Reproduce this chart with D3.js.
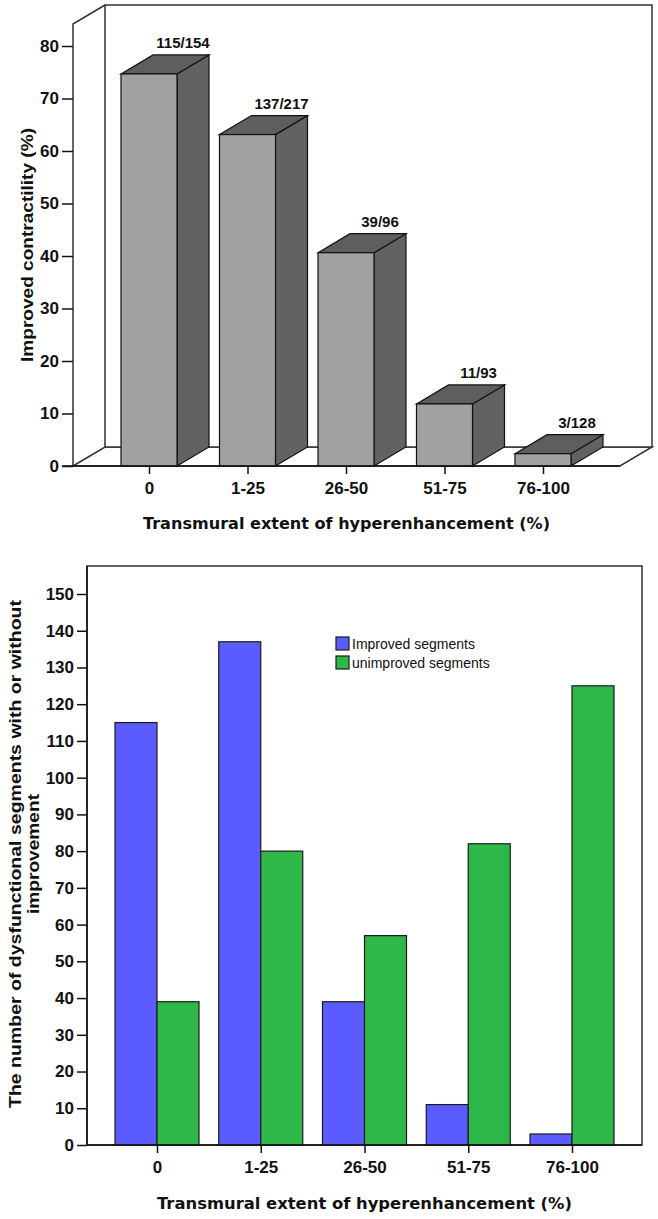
<!DOCTYPE html>
<html><head><meta charset="utf-8">
<script src="https://cdn.jsdelivr.net/npm/d3@7"></script>
<style>
html,body{margin:0;padding:0;background:#fff;}
svg{display:block;}
text{font-family:"Liberation Sans",Arial,sans-serif;font-weight:bold;fill:#111;}
</style></head>
<body>
<svg id="c" width="658" height="1219"></svg>
<script>
const categories = ["0","1-25","26-50","51-75","76-100"];
const improved   = [115,137,39,11,3];
const totals     = [154,217,96,93,128];
const unimproved = [39,80,57,82,125];
const pctTicks   = [0,10,20,30,40,50,60,70,80];
const countTicks = [0,10,20,30,40,50,60,70,80,90,100,110,120,130,140,150];
const seriesNames = ["Improved segments","unimproved segments"];
const seriesColors = ["#5b5cff","#2eb84a"];

const svg = d3.select("#c");

// ---------------- Top 3D chart ----------------
const g1 = svg.append("g");
const y1 = d3.scaleLinear().domain([0,80]).range([466,46]);
const x1 = d3.scalePoint().domain(categories).range([149,543]);
const dx = 32, dy = -19, bw = 56;
const wallTop = 5, floorRight = 620;
const lineCol = "#333";

const base = y1(0);
g1.append("path").attr("d",
  `M${73},${base} L${73+dx},${base+dy} L${652},${base+dy} L${floorRight},${base} Z`)
  .attr("fill","#fff").attr("stroke",lineCol).attr("stroke-width",1.5);
g1.append("rect").attr("x",73+dx).attr("y",wallTop).attr("width",652-73-dx).attr("height",base+dy-wallTop)
  .attr("fill","#fff").attr("stroke",lineCol).attr("stroke-width",1.5);
g1.append("path").attr("d",`M73,${base} L73,${wallTop-dy} L${73+dx},${wallTop}`)
  .attr("fill","none").attr("stroke",lineCol).attr("stroke-width",1.5);

const pct = improved.map((v,i)=>v/totals[i]*100);
categories.forEach((c,i)=>{
  const xc = x1(c), xl = xc - bw/2, xr = xc + bw/2, yt = y1(pct[i]);
  const bar = g1.append("g");
  bar.append("path").attr("d",`M${xr},${yt} L${xr+dx},${yt+dy} L${xr+dx},${base+dy} L${xr},${base} Z`)
    .attr("fill","#626262").attr("stroke","#111").attr("stroke-width",1.2);
  bar.append("path").attr("d",`M${xl},${yt} L${xl+dx},${yt+dy} L${xr+dx},${yt+dy} L${xr},${yt} Z`)
    .attr("fill","#5e5e5e").attr("stroke","#111").attr("stroke-width",1.2);
  bar.append("rect").attr("x",xl).attr("y",yt).attr("width",bw).attr("height",base-yt)
    .attr("fill","#a1a1a1").attr("stroke","#111").attr("stroke-width",1.2);
  g1.append("text").attr("x",xc+34).attr("y",yt-26).attr("text-anchor","middle")
    .style("font-size","15px").text(improved[i]+"/"+totals[i]);
});
g1.append("line").attr("x1",62).attr("x2",floorRight).attr("y1",base).attr("y2",base)
  .attr("stroke","#111").attr("stroke-width",1.5);

const ax1 = g1.append("g").attr("transform","translate(73,0)")
  .call(d3.axisLeft(y1).tickValues(pctTicks).tickSize(11).tickPadding(3));
ax1.select(".domain").remove();
ax1.selectAll("line").attr("stroke","#111").attr("stroke-width",1.5);
ax1.selectAll("text").style("font-size","17px").style("font-family","Liberation Sans").style("font-weight","bold").attr("fill","#111");

const bx1 = g1.append("g").attr("transform",`translate(0,${base})`)
  .call(d3.axisBottom(x1).tickSize(8).tickPadding(8));
bx1.select(".domain").remove();
bx1.selectAll("line").attr("stroke","#111").attr("stroke-width",1.5);
bx1.selectAll("text").style("font-size","17px").style("font-family","Liberation Sans").style("font-weight","bold").attr("fill","#111");

g1.append("text").attr("x",346.5).attr("y",529).attr("text-anchor","middle")
  .style("font-family","DejaVu Sans").style("font-size","16px")
  .attr("textLength",407).attr("lengthAdjust","spacingAndGlyphs")
  .text("Transmural extent of hyperenhancement (%)");
g1.append("text").attr("transform","translate(33,245) rotate(-90)").attr("text-anchor","middle")
  .style("font-size","17px").attr("textLength",234).attr("lengthAdjust","spacingAndGlyphs")
  .text("Improved contractility (%)");

// ---------------- Bottom grouped chart ----------------
const g2 = svg.append("g");
const y2 = d3.scaleLinear().domain([0,150]).range([1145,594]);
const x2 = d3.scalePoint().domain(categories).range([157,572]);
const bw2 = 42;
g2.append("rect").attr("x",87).attr("y",566).attr("width",642-87).attr("height",1145-566)
  .attr("fill","#fff").attr("stroke","#333").attr("stroke-width",1.5);

[improved, unimproved].forEach((vals,s)=>{
  g2.selectAll(null).data(vals).enter().append("rect")
    .attr("x",(d,i)=>x2(categories[i]) + (s===0 ? -bw2 : 0))
    .attr("y",d=>y2(d)).attr("width",bw2).attr("height",d=>y2(0)-y2(d))
    .attr("fill",seriesColors[s]).attr("stroke","#1a1a1a").attr("stroke-width",1.2);
});
g2.append("line").attr("x1",87).attr("x2",642).attr("y1",1145).attr("y2",1145).attr("stroke","#111").attr("stroke-width",1.5);
g2.append("line").attr("x1",87).attr("x2",87).attr("y1",566).attr("y2",1145).attr("stroke","#111").attr("stroke-width",1.5);

const ax2 = g2.append("g").attr("transform","translate(87,0)")
  .call(d3.axisLeft(y2).tickValues(countTicks).tickSize(10).tickPadding(3));
ax2.select(".domain").remove();
ax2.selectAll("line").attr("stroke","#111").attr("stroke-width",1.5);
ax2.selectAll("text").style("font-size","17px").style("font-family","Liberation Sans").style("font-weight","bold").attr("fill","#111");

const bx2 = g2.append("g").attr("transform","translate(0,1145)")
  .call(d3.axisBottom(x2).tickSize(8).tickPadding(8));
bx2.select(".domain").remove();
bx2.selectAll("line").attr("stroke","#111").attr("stroke-width",1.5);
bx2.selectAll("text").style("font-size","17px").style("font-family","Liberation Sans").style("font-weight","bold").attr("fill","#111");

const lg = g2.append("g");
seriesNames.forEach((n,i)=>{
  lg.append("rect").attr("x",336).attr("y",637+i*19).attr("width",13).attr("height",13)
    .attr("fill",seriesColors[i]).attr("stroke","#1a1a1a").attr("stroke-width",1.2);
  lg.append("text").attr("x",352).attr("y",649+i*19).style("font-weight","normal")
    .style("font-size","14px").text(n);
});

g2.append("text").attr("x",364.5).attr("y",1209).attr("text-anchor","middle")
  .style("font-family","DejaVu Sans").style("font-size","16px")
  .attr("textLength",415).attr("lengthAdjust","spacingAndGlyphs")
  .text("Transmural extent of hyperenhancement (%)");
g2.append("text").attr("transform","translate(21,854) rotate(-90)").attr("text-anchor","middle")
  .style("font-size","17px").attr("textLength",508).attr("lengthAdjust","spacingAndGlyphs")
  .text("The number of dysfunctional segments with or without");
g2.append("text").attr("transform","translate(39,854) rotate(-90)").attr("text-anchor","middle")
  .style("font-size","17px").attr("textLength",120).attr("lengthAdjust","spacingAndGlyphs")
  .text("improvement");
</script>
</body></html>
